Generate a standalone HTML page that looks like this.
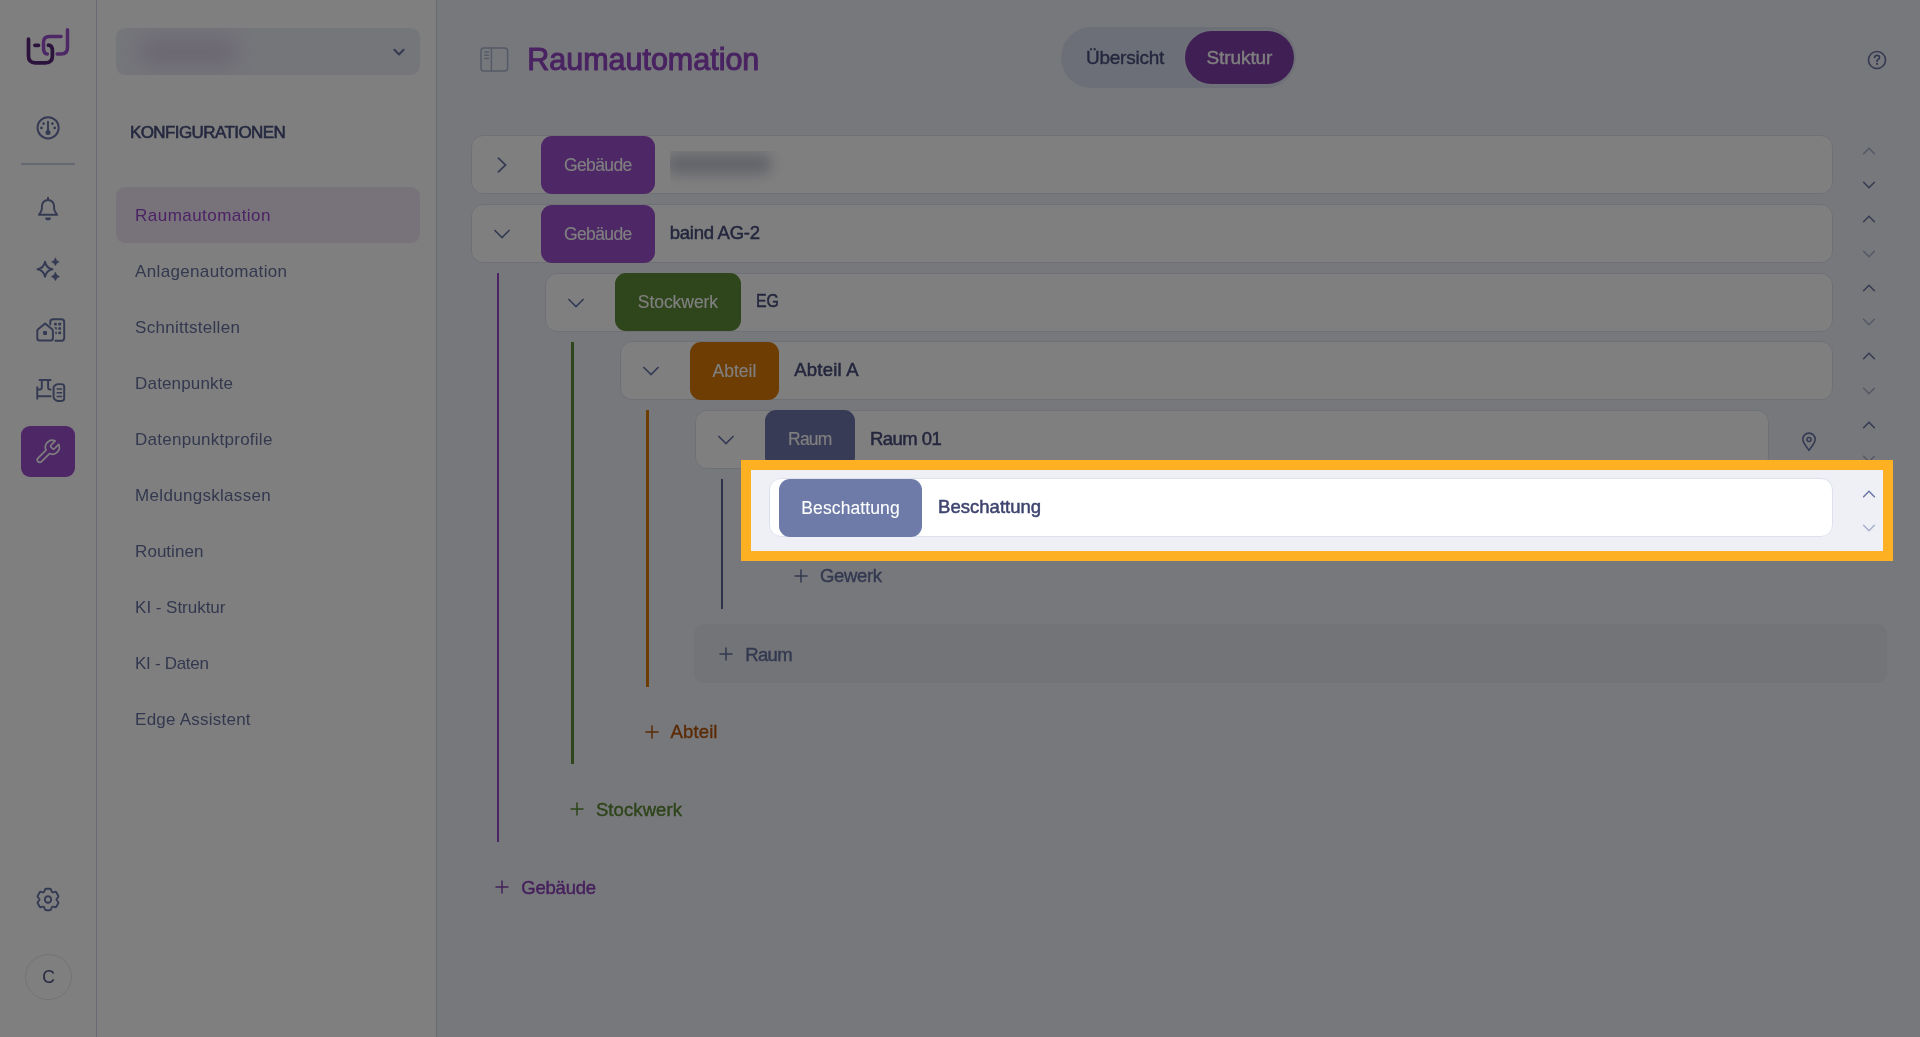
<!DOCTYPE html>
<html lang="de">
<head>
<meta charset="utf-8">
<title>Raumautomation</title>
<style>
*{box-sizing:border-box;margin:0;padding:0}
html,body{width:1920px;height:1037px;overflow:hidden}
body{font-family:"Liberation Sans",sans-serif;background:#eef0f6;color:#3e446e;position:relative}
#rail,#side,#main{will-change:transform}
.svgabs{position:absolute;display:block;overflow:visible}
#rail{position:absolute;left:0;top:0;width:96.5px;height:1037px;background:#fff;border-right:1px solid #cfd5e3}
#side{position:absolute;left:97px;top:0;width:340px;height:1037px;background:#fff;border-right:1px solid #cfd5e3}
#divider{position:absolute;left:21px;top:163.4px;width:54px;height:1.2px;background:#ccd3e2}
#active{position:absolute;left:21.2px;top:426.1px;width:53.8px;height:50.9px;border-radius:9px;background:#9a4fcc}
#avatar{position:absolute;left:25.2px;top:953.8px;width:46.6px;height:46.6px;border-radius:50%;border:1px solid #e1e5ef;font-size:17.5px;color:#4d5382;display:flex;align-items:center;justify-content:center}
#dd{position:absolute;left:19.2px;top:28px;width:303.6px;height:47px;border-radius:9px;background:#eaecf5;overflow:hidden}
#ddblur{position:absolute;left:22px;top:9px;width:100px;height:29px;border-radius:14px;background:#b48fc4;filter:blur(10px);opacity:.3}
#konf{position:absolute;left:32.9px;top:123.1px;font-size:17px;color:#4b527f;line-height:20px;white-space:nowrap;-webkit-text-stroke:.6px #4b527f}
.nav{position:absolute;left:19px;width:304px;height:56px;border-radius:9px;padding-left:19.1px;font-size:17px;line-height:58.2px;color:#66719f;white-space:nowrap}
.nav.on{background:#f1e5f7;color:#9747c9}
#title{position:absolute;left:527.3px;top:40.3px;font-size:30.5px;line-height:38px;color:#9245c2;white-space:nowrap;-webkit-text-stroke:1px #9245c2}
#toggle{position:absolute;left:1060.8px;top:26.8px;width:235.6px;height:60.9px;border-radius:31px;background:#d9deee}
#tg1{position:absolute;left:25.1px;top:0;height:60.9px;line-height:61.5px;font-size:19px;color:#474d7a;-webkit-text-stroke:.35px #474d7a;white-space:nowrap}
#tg2{position:absolute;left:124.3px;top:4px;width:108.6px;height:52.8px;border-radius:27px;background:#813ea9;line-height:53.5px;text-align:center;font-size:19px;color:#fff;-webkit-text-stroke:.35px #fff;box-shadow:0 0 0 2px rgba(255,255,255,.12)}
.card{position:absolute;height:59.2px;border-radius:12px;background:#fff;border:1px solid #dde1ec}
.tag{position:absolute;height:58px;border-radius:11px;color:#fff;font-size:17.5px;line-height:58.8px;-webkit-text-stroke:.1px #fff;text-align:center;white-space:nowrap}
.lbl{position:absolute;font-size:18.5px;line-height:24px;color:#474d7a;white-space:nowrap;-webkit-text-stroke:.5px currentColor}
.vl{position:absolute;width:2.6px}
.add{position:absolute;font-size:18.5px;line-height:24px;white-space:nowrap;-webkit-text-stroke:.4px currentColor}
.ch{fill:none;stroke:#6b77ab;stroke-width:1.75;stroke-linecap:round;stroke-linejoin:miter}
.ar{fill:none;stroke-width:1.5;stroke-linecap:round;stroke-linejoin:miter}
.ar.dk{stroke:#6a74a6}
.ar.lt{stroke:#a9b0cc}
#rowblur{position:absolute;left:670.2px;top:151px;width:125px;height:42px;overflow:hidden}
#rowblur i{position:absolute;left:-3px;top:3px;width:104px;height:20px;border-radius:6px;background:#3e446e;filter:blur(7px);opacity:.3;display:block}
#hover{position:absolute;left:694.2px;top:624.4px;width:1193px;height:58.9px;border-radius:10px;background:#e6e8f0}
#hl{position:absolute;left:741.3px;top:459.9px;width:1152px;height:101.3px;border:10px solid #fdb022;box-shadow:0 0 0 4000px rgba(0,0,0,.5);pointer-events:none}
</style>
</head>
<body>
<div id="rail">
  <div id="divider"></div>
  <div id="active"></div>
  
<svg class="svgabs" style="left:0;top:0" width="96" height="1037" viewBox="0 0 96 1037" fill="none" stroke-linecap="round" stroke-linejoin="round">
  <!-- logo -->
  <g>
    <path d="M61.1 36.4 H49.5 Q43.5 36.4 43.5 42.4 V48 Q43.5 53.9 47.3 53.9 M57.2 54.1 H61 Q67.5 54.1 67.5 47.6 V29.85" stroke="#9a4fcc" stroke-width="3.5"/>
    <path d="M28.5 39.2 V56 Q28.5 62.8 35.3 62.8 H45.6 Q52.4 62.8 52.4 56 V51 Q52.4 45.2 48.4 45.2 M34.9 45.3 H38.5" stroke="#58267a" stroke-width="3.7"/>
  </g>
  <g stroke="#6a74a6" stroke-width="1.95">
    <!-- gauge -->
    <circle cx="48.1" cy="127.8" r="10.6"/>
    <path d="M48 121.6 V131"/>
    <circle cx="48" cy="132.4" r="2.5" fill="#6a74a6" stroke="none"/>
    <g fill="#6a74a6" stroke="none"><circle cx="43.6" cy="123.6" r="1.35"/><circle cx="52.4" cy="123.6" r="1.35"/><circle cx="41.4" cy="127.9" r="1.35"/><circle cx="54.7" cy="127.9" r="1.35"/></g>
    <!-- bell -->
    <path d="M48 197.8 V199.8"/>
    <path d="M41.9 206 A6.1 6.1 0 0 1 54.1 206 V208.6 C54.1 211.2 55.6 212.6 57.2 214.8 H38.9 C40.4 212.6 41.9 211.2 41.9 208.6 Z"/>
    <path d="M45.2 217.4 A2.9 2.9 0 0 0 51 217.4 Z" fill="#6a74a6" stroke="none"/>
    <!-- sparkles -->
    <path d="M45 261.8 Q46.2 268.1 52.5 269.3 Q46.2 270.5 45 276.8 Q43.8 270.5 37.5 269.3 Q43.8 268.1 45 261.8Z"/>
    <path d="M55.4 258.2 Q56.14 261.15999999999997 59.1 261.9 Q56.14 262.64 55.4 265.59999999999997 Q54.66 262.64 51.699999999999996 261.9 Q54.66 261.15999999999997 55.4 258.2Z" fill="#6a74a6" stroke-width=".7"/>
    <path d="M55.4 272.6 Q56.199999999999996 275.8 59.4 276.6 Q56.199999999999996 277.40000000000003 55.4 280.6 Q54.6 277.40000000000003 51.4 276.6 Q54.6 275.8 55.4 272.6Z" fill="#6a74a6" stroke-width=".7"/>
    <!-- buildings -->
    <path d="M45.1 323.6 L52.1 329.3 Q52.9 330 52.9 331 V338.2 Q52.9 340.5 50.6 340.5 H39.6 Q37.3 340.5 37.3 338.2 V331 Q37.3 330 38.1 329.3 Z"/>
    <rect x="43.1" y="331" width="3.9" height="3.9" rx=".8" fill="#6a74a6" stroke="none"/>
    <path d="M50.3 324.6 V322 Q50.3 319.3 53 319.3 H61.5 Q64.2 319.3 64.2 322 V338 Q64.2 340.7 61.5 340.7 H55.4"/>
    <g fill="#6a74a6" stroke="none">
      <rect x="54" y="322.8" width="2.8" height="2.6" rx=".5"/><rect x="58.3" y="322.8" width="2.8" height="2.6" rx=".5"/>
      <path d="M54 327.2 H56.8 V329.8 H56 Z"/><rect x="58.3" y="327.2" width="2.8" height="2.6" rx=".5"/>
      <rect x="55.3" y="331.6" width="1.5" height="2.6" rx=".4"/><rect x="58.3" y="331.6" width="2.8" height="2.6" rx=".5"/>
    </g>
    <!-- pipes + doc -->
    <path d="M39.6 380 H50.6 M41.8 380 V387.6 Q41.8 389.5 39.9 389.5 H37.3 M48.1 380 V387.6 Q48.1 389.5 50 389.5 H50.6 M37.3 387.3 V398.7 M37.3 396.3 H50.6"/>
    <path d="M57.8 384.1 H61.6 Q64.2 384.1 64.2 386.7 V398.3 Q64.2 400.9 61.6 400.9 H57.8 Q56.9 400.9 56.2 400.4 L54.4 398.9 Q53.6 398.2 53.6 397.2 V387.8 Q53.6 386.8 54.4 386.1 L56.2 384.6 Q56.9 384.1 57.8 384.1 Z"/>
    <path d="M57.2 389.1 H61.6 M57.2 392.8 H61.6 M57.2 396.4 H61.6" stroke-width="1.5"/>
    <!-- gear -->
    <path d="M44.73 890.02 Q44.91 888.73 46.21 888.73 L49.79 888.73 Q51.09 888.73 51.27 890.02 L51.34 890.48 Q51.52 891.77 52.23 892.17 L52.23 892.17 Q52.94 892.58 54.14 892.10 L54.57 891.93 Q55.78 891.44 56.43 892.57 L58.22 895.66 Q58.87 896.79 57.85 897.59 L57.48 897.88 Q56.46 898.69 56.46 899.50 L56.46 899.50 Q56.46 900.31 57.48 901.12 L57.85 901.41 Q58.87 902.21 58.22 903.34 L56.43 906.43 Q55.78 907.56 54.57 907.07 L54.14 906.90 Q52.94 906.42 52.23 906.83 L52.23 906.83 Q51.52 907.23 51.34 908.52 L51.27 908.98 Q51.09 910.27 49.79 910.27 L46.21 910.27 Q44.91 910.27 44.73 908.98 L44.66 908.52 Q44.48 907.23 43.77 906.83 L43.77 906.83 Q43.06 906.42 41.86 906.90 L41.43 907.07 Q40.22 907.56 39.57 906.43 L37.78 903.34 Q37.13 902.21 38.15 901.41 L38.52 901.12 Q39.54 900.31 39.54 899.50 L39.54 899.50 Q39.54 898.69 38.52 897.88 L38.15 897.59 Q37.13 896.79 37.78 895.66 L39.57 892.57 Q40.22 891.44 41.43 891.93 L41.86 892.10 Q43.06 892.58 43.77 892.17 L43.77 892.17 Q44.48 891.77 44.66 890.48 Z" stroke-width="1.9"/>
    <circle cx="48" cy="899.5" r="3.2" stroke-width="1.9"/>
  </g>
</svg>
  <svg class="svgabs" style="left:0;top:0" width="96" height="1037" viewBox="0 0 96 1037" fill="none" stroke="#fff" stroke-linecap="round" stroke-linejoin="round"><g transform="translate(33.83 437.98) scale(1.158)"><path stroke-width="1.4" d="M14.7 6.3a1 1 0 0 0 0 1.4l1.6 1.6a1 1 0 0 0 1.4 0l3.77-3.77a6 6 0 0 1-7.94 7.94l-6.91 6.91a2.12 2.12 0 0 1-3-3l6.91-6.91a6 6 0 0 1 7.94-7.94l-3.76 3.76z"/></g></svg>
  <div id="avatar">C</div>
</div>
<div id="side">
  <div id="dd"><div id="ddblur"></div>
    <svg class="svgabs" style="left:273px;top:14px" width="20" height="20" viewBox="-10 -10 20 20" fill="none" stroke="#6a74a6" stroke-width="2.1" stroke-linecap="round" stroke-linejoin="round"><path d="M-4.6 -2.2 L0 2.4 L4.6 -2.2"/></svg>
  </div>
  <div id="konf" style="letter-spacing:-0.58px">KONFIGURATIONEN</div>
  <div class="nav on" style="top:187.4px;letter-spacing:0.45px">Raumautomation</div>
  <div class="nav" style="top:243.4px;letter-spacing:0.34px">Anlagenautomation</div>
  <div class="nav" style="top:299.4px;letter-spacing:0.28px">Schnittstellen</div>
  <div class="nav" style="top:355.4px;letter-spacing:0.15px">Datenpunkte</div>
  <div class="nav" style="top:411.4px;letter-spacing:0.25px">Datenpunktprofile</div>
  <div class="nav" style="top:467.4px;letter-spacing:0.3px">Meldungsklassen</div>
  <div class="nav" style="top:523.4px;letter-spacing:0.03px">Routinen</div>
  <div class="nav" style="top:579.4px;letter-spacing:-0.03px">KI - Struktur</div>
  <div class="nav" style="top:635.4px;letter-spacing:-0.31px">KI - Daten</div>
  <div class="nav" style="top:691.4px;letter-spacing:0.23px">Edge Assistent</div>
</div>
<div id="main">
  <svg class="svgabs" style="left:478px;top:45px" width="32" height="28" viewBox="478 45 32 28" fill="none" stroke="#a9b4d0" stroke-width="1.5" stroke-linecap="round"><rect x="481" y="47.9" width="26.6" height="23" rx="3"/><path d="M491.4 48 V70.8 M484.8 52 H488.4 M484.8 55.2 H488.4 M484.8 58.4 H488.4"/></svg>
  <div id="title" style="letter-spacing:-.02px">Raumautomation</div>
  <div id="toggle"><div id="tg1" style="letter-spacing:-0.22px">Übersicht</div><div id="tg2" style="letter-spacing:-0.1px">Struktur</div></div>
  <svg class="svgabs" style="left:1864.9px;top:47.6px" width="24" height="24" viewBox="-12 -12 24 24" fill="none" stroke="#6a74a6" stroke-width="1.6" stroke-linecap="round" stroke-linejoin="round"><circle r="8.5"/><path d="M-2.4 -2.6 Q-2.2 -4.6 0.1 -4.6 Q2.5 -4.6 2.5 -2.6 Q2.5 -1.3 0.9 -0.4 Q0 0.2 0 1.3" stroke-width="1.7"/><circle cx="0" cy="3.9" r="1.1" fill="#6a74a6" stroke="none"/></svg>

  <div class="card" style="left:470.9px;top:135.3px;width:1361.7px"></div>
  <div class="tag" style="left:540.8px;top:135.9px;width:114px;background:#9a4fcc;letter-spacing:-0.6px">Gebäude</div>
  <svg class="svgabs ch" style="left:492.0px;top:154.7px" width="20" height="20" viewBox="-10 -10 20 20"><path d="M-3.6 -6.9 L3.6 0 L-3.6 6.9"/></svg>
  <div class="card" style="left:470.9px;top:203.9px;width:1361.7px"></div>
  <div class="tag" style="left:540.8px;top:204.5px;width:114px;background:#9a4fcc;letter-spacing:-0.6px">Gebäude</div>
  <div class="lbl" style="left:669.7px;top:220.8px;letter-spacing:-0.25px">baind AG-2</div>
  <svg class="svgabs ch" style="left:492.0px;top:224.2px" width="20" height="20" viewBox="-10 -10 20 20"><path d="M-7.1 -3.5 L0 3.5 L7.1 -3.5"/></svg>
  <div class="card" style="left:544.8px;top:272.5px;width:1287.8px"></div>
  <div class="tag" style="left:615.2px;top:273.1px;width:125.5px;background:#5e8a36;letter-spacing:-0.06px">Stockwerk</div>
  <div class="lbl" style="left:756px;top:289.4px;transform:scaleX(.86);transform-origin:0 50%">EG</div>
  <svg class="svgabs ch" style="left:565.9px;top:292.8px" width="20" height="20" viewBox="-10 -10 20 20"><path d="M-7.1 -3.5 L0 3.5 L7.1 -3.5"/></svg>
  <div class="card" style="left:619.5px;top:341.1px;width:1213.1px"></div>
  <div class="tag" style="left:689.9px;top:341.7px;width:89.1px;background:#dc7a08;letter-spacing:-0.02px">Abteil</div>
  <div class="lbl" style="left:794.3px;top:358.0px;letter-spacing:0.21px">Abteil A</div>
  <svg class="svgabs ch" style="left:640.6px;top:361.4px" width="20" height="20" viewBox="-10 -10 20 20"><path d="M-7.1 -3.5 L0 3.5 L7.1 -3.5"/></svg>
  <div class="card" style="left:694.7px;top:409.7px;width:1074.3px"></div>
  <div class="tag" style="left:764.9px;top:410.3px;width:89.9px;background:#6f76ab;letter-spacing:-0.76px">Raum</div>
  <div class="lbl" style="left:870px;top:426.6px;letter-spacing:-0.55px">Raum 01</div>
  <svg class="svgabs ch" style="left:715.8px;top:430.0px" width="20" height="20" viewBox="-10 -10 20 20"><path d="M-7.1 -3.5 L0 3.5 L7.1 -3.5"/></svg>
  <div class="card" style="left:769.4px;top:478.3px;width:1063.2px"></div>
  <div class="tag" style="left:779.1px;top:478.9px;width:142.9px;background:#6e7ba8;letter-spacing:0.1px">Beschattung</div>
  <div class="lbl" style="left:938.1px;top:495.2px;letter-spacing:0.02px;color:#3e446e">Beschattung</div>

  <div class="vl" style="left:497px;width:2.3px;top:273.2px;height:569px;background:#9747c9"></div>
  <div class="vl" style="left:571.2px;top:341.6px;height:422.8px;background:#5e8a36"></div>
  <div class="vl" style="left:646.1px;top:410px;height:276.6px;background:#dc7a08"></div>
  <div class="vl" style="left:720.9px;top:478.7px;height:130px;background:#5a6394"></div>

  <svg class="svgabs" style="left:1797.2px;top:428px" width="24" height="26" viewBox="1797.2 428 24 26" fill="none" stroke="#6a74a6" stroke-width="1.6" stroke-linejoin="round"><path d="M1809.2 450.3 C1806 445.6 1803 442.9 1803 439.3 A6.2 6.2 0 0 1 1815.4 439.3 C1815.4 442.9 1812.4 445.6 1809.2 450.3Z"/><circle cx="1809.2" cy="439.5" r="2" stroke-width="1.5"/></svg>
  <svg class="svgabs ar lt" style="left:1859.2px;top:140.5px" width="20" height="20" viewBox="-10 -10 20 20"><path d="M-5.4 2.7 L0 -2.7 L5.4 2.7"/></svg>
  <svg class="svgabs ar dk" style="left:1859.2px;top:174.9px" width="20" height="20" viewBox="-10 -10 20 20"><path d="M-5.4 -2.7 L0 2.7 L5.4 -2.7"/></svg>
  <svg class="svgabs ar dk" style="left:1859.2px;top:209.1px" width="20" height="20" viewBox="-10 -10 20 20"><path d="M-5.4 2.7 L0 -2.7 L5.4 2.7"/></svg>
  <svg class="svgabs ar lt" style="left:1859.2px;top:243.5px" width="20" height="20" viewBox="-10 -10 20 20"><path d="M-5.4 -2.7 L0 2.7 L5.4 -2.7"/></svg>
  <svg class="svgabs ar dk" style="left:1859.2px;top:277.7px" width="20" height="20" viewBox="-10 -10 20 20"><path d="M-5.4 2.7 L0 -2.7 L5.4 2.7"/></svg>
  <svg class="svgabs ar lt" style="left:1859.2px;top:312.1px" width="20" height="20" viewBox="-10 -10 20 20"><path d="M-5.4 -2.7 L0 2.7 L5.4 -2.7"/></svg>
  <svg class="svgabs ar dk" style="left:1859.2px;top:346.3px" width="20" height="20" viewBox="-10 -10 20 20"><path d="M-5.4 2.7 L0 -2.7 L5.4 2.7"/></svg>
  <svg class="svgabs ar lt" style="left:1859.2px;top:380.7px" width="20" height="20" viewBox="-10 -10 20 20"><path d="M-5.4 -2.7 L0 2.7 L5.4 -2.7"/></svg>
  <svg class="svgabs ar dk" style="left:1859.2px;top:414.9px" width="20" height="20" viewBox="-10 -10 20 20"><path d="M-5.4 2.7 L0 -2.7 L5.4 2.7"/></svg>
  <svg class="svgabs ar lt" style="left:1859.2px;top:449.3px" width="20" height="20" viewBox="-10 -10 20 20"><path d="M-5.4 -2.7 L0 2.7 L5.4 -2.7"/></svg>
  <svg class="svgabs ar dk" style="left:1859.2px;top:483.5px" width="20" height="20" viewBox="-10 -10 20 20"><path d="M-5.4 2.7 L0 -2.7 L5.4 2.7"/></svg>
  <svg class="svgabs ar lt" style="left:1859.2px;top:517.9px" width="20" height="20" viewBox="-10 -10 20 20"><path d="M-5.4 -2.7 L0 2.7 L5.4 -2.7"/></svg>

  <div id="rowblur"><i></i></div>
  <div id="hover"></div>
  <svg class="svgabs" style="left:792.8px;top:567.9px" width="16" height="16" viewBox="-8 -8 16 16" fill="none" stroke="#66719f" stroke-width="1.5" stroke-linecap="round"><path d="M-6 0 H6 M0 -6 V6"/></svg>
  <div class="add" style="left:820px;top:564.3px;color:#66719f;letter-spacing:-0.35px">Gewerk</div>
  <svg class="svgabs" style="left:718.4px;top:646.3px" width="16" height="16" viewBox="-8 -8 16 16" fill="none" stroke="#66719f" stroke-width="1.5" stroke-linecap="round"><path d="M-6 0 H6 M0 -6 V6"/></svg>
  <div class="add" style="left:745.3px;top:642.7px;color:#66719f;letter-spacing:-0.69px">Raum</div>
  <svg class="svgabs" style="left:643.7px;top:724.0px" width="16" height="16" viewBox="-8 -8 16 16" fill="none" stroke="#b4570c" stroke-width="1.5" stroke-linecap="round"><path d="M-6 0 H6 M0 -6 V6"/></svg>
  <div class="add" style="left:670.6px;top:720.4px;color:#b4570c;letter-spacing:0.12px">Abteil</div>
  <svg class="svgabs" style="left:569.0px;top:801.2px" width="16" height="16" viewBox="-8 -8 16 16" fill="none" stroke="#5b8733" stroke-width="1.5" stroke-linecap="round"><path d="M-6 0 H6 M0 -6 V6"/></svg>
  <div class="add" style="left:595.9px;top:797.6px;color:#5b8733;letter-spacing:0.1px">Stockwerk</div>
  <svg class="svgabs" style="left:494.3px;top:879.3px" width="16" height="16" viewBox="-8 -8 16 16" fill="none" stroke="#8a3fb8" stroke-width="1.5" stroke-linecap="round"><path d="M-6 0 H6 M0 -6 V6"/></svg>
  <div class="add" style="left:521.2px;top:875.7px;color:#8a3fb8;letter-spacing:-0.2px">Gebäude</div>
</div>
<div id="hl"></div>
</body>
</html>
